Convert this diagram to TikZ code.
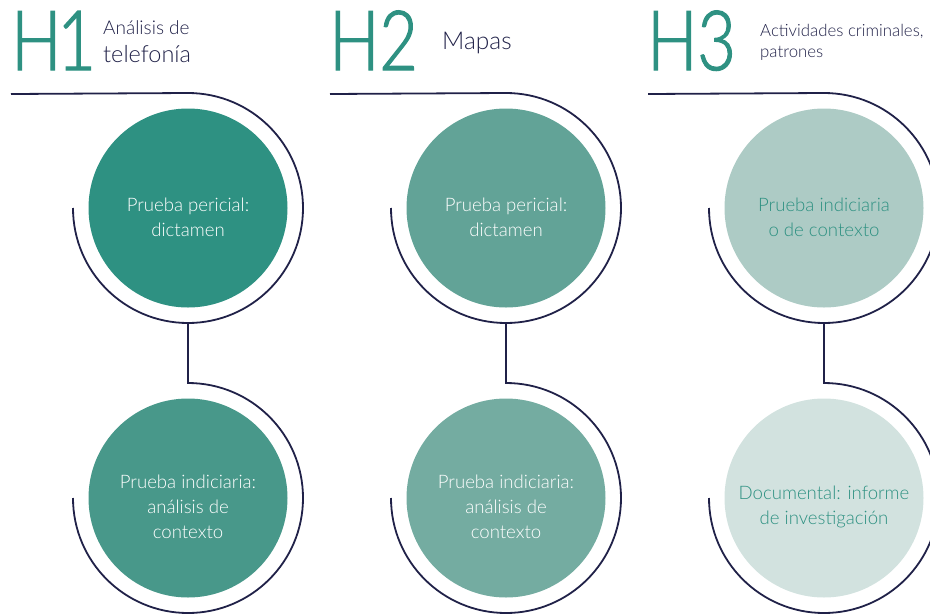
\documentclass[tikz,border=0pt]{standalone}
\usepackage{fontspec}
\setmainfont{Fira Sans}
\IfFontExistsTF{Lato Light}
  {\newfontfamily\lightfont{Lato Light}
   \newfontfamily\hfont{Lato Light}[FakeStretch=0.8, FakeBold=1.5]}
  {\newfontfamily\lightfont{Fira Sans}
   \newfontfamily\hfont{Fira Sans}[FakeStretch=0.8]}
\usetikzlibrary{calc,positioning}

\definecolor{navy}{RGB}{32,33,72}
\definecolor{tealA}{RGB}{46,145,130}
\definecolor{tealB}{RGB}{72,152,138}
\definecolor{tealC}{RGB}{98,163,151}
\definecolor{tealD}{RGB}{116,172,161}
\definecolor{tealE}{RGB}{173,203,197}
\definecolor{tealF}{RGB}{210,226,223}

\tikzset{
  disc/.style={circle, minimum size=199pt, inner sep=0pt},
  disctext/.style={align=center, inner sep=0pt, yshift=-9pt,
    font=\lightfont\fontsize{18.6}{25}\selectfont},
  ring/.style={navy, line width=1.8pt},
  hnum/.style={anchor=base west, inner sep=0pt, text=tealA,
    font=\hfont\fontsize{83}{83}\selectfont},
  hlabel/.style={anchor=base west, inner sep=0pt, text=navy, align=left}
}

\begin{document}
\begin{tikzpicture}[x=1pt,y=1pt]
  \clip (0,0) rectangle (930,-614);

  % headings
  \node[hnum] (h1) at (11,-70) {H\kern-4pt1};
  \node[hlabel, font=\lightfont\fontsize{19}{19}\selectfont] (h1a) at (103,-34) {Análisis de};
  \node[hlabel, font=\lightfont\fontsize{23.5}{23.5}\selectfont] (h1b) at (103,-62) {telefonía};

  \node[hnum] (h2) at (329,-70) {H2};
  \node[hlabel, font=\lightfont\fontsize{24.5}{24.5}\selectfont] (h2a) at (442,-49) {Mapas};

  \node[hnum] (h3) at (647,-70) {H3};
  \node[hlabel, font=\lightfont\fontsize{16.8}{21}\selectfont] (h3a) at (760,-57)
    {Actividades criminales,\\patrones};

  % circles, upper row
  \node[disc, fill=tealA] (p1) at (188,-208) {};
  \node[disc, fill=tealC] (p2) at (506,-208) {};
  \node[disc, fill=tealE] (p3) at (824,-208) {};
  \node[disctext, text=white] (p1t) at (p1) {Prueba pericial:\\dictamen};
  \node[disctext, text=white] (p2t) at (p2) {Prueba pericial:\\dictamen};
  \node[disctext, text=tealA] (p3t) at (p3) {Prueba indiciaria\\o de contexto};

  % circles, lower row
  \node[disc, fill=tealB] (q1) at (188,-498) {};
  \node[disc, fill=tealD] (q2) at (506,-498) {};
  \node[disc, fill=tealF] (q3) at (824,-498) {};
  \node[disctext, text=white] (q1t) at (q1) {Prueba indiciaria:\\análisis de\\contexto};
  \node[disctext, text=white] (q2t) at (q2) {Prueba indiciaria:\\análisis de\\contexto};
  \node[disctext, text=tealA] (q3t) at (q3) {Documental: informe\\de investigación};

  % rings and links
  \foreach \c/\x in {1/11,2/330,3/648}{
    \draw[ring] (\x,-94) -- ($(p\c.center)+(0,115)$)
      arc[start angle=90, end angle=-180, radius=115];
    \draw[ring] ($(p\c.center)+(0,-115)$) -- ($(q\c.center)+(0,115)$)
      arc[start angle=90, end angle=-180, radius=115];
  }

\end{tikzpicture}
\end{document}
